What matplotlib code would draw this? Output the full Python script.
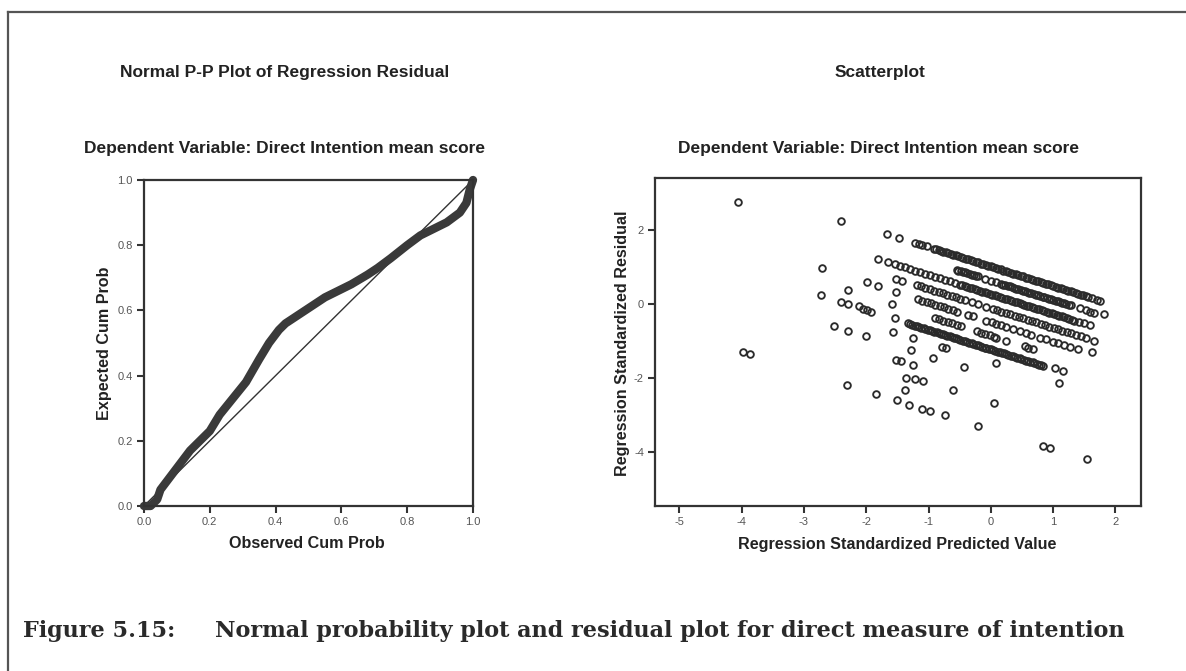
import matplotlib.pyplot as plt
from matplotlib.lines import Line2D

# ---- P-P plot data (observed cum prob, expected cum prob) ----
obs_cum = [0.00, 0.02, 0.04, 0.05, 0.08, 0.11, 0.14, 0.17, 0.20, 0.23, 0.27,
           0.31, 0.35, 0.38, 0.41, 0.43, 0.46, 0.49, 0.52, 0.55, 0.59, 0.63,
           0.68, 0.71, 0.75, 0.80, 0.84, 0.88, 0.92, 0.96, 0.98, 0.99, 1.00]
exp_cum = [0.00, 0.00, 0.02, 0.05, 0.09, 0.13, 0.17, 0.20, 0.23, 0.28, 0.33,
           0.38, 0.45, 0.50, 0.54, 0.56, 0.58, 0.60, 0.62, 0.64, 0.66, 0.68,
           0.71, 0.73, 0.76, 0.80, 0.83, 0.85, 0.87, 0.90, 0.93, 0.97, 1.00]

# ---- residual scatter, read band by band ----
band_a_x = [-2.40, -1.67, -1.47, -1.22, -1.16, -1.10, -1.02,
            -0.92, -0.84, -0.76, -0.68, -0.60, -0.52, -0.44, -0.36, -0.28, -0.20,
            -0.12, -0.04, 0.04, 0.12, 0.20, 0.28, 0.36, 0.44, 0.52, 0.60, 0.68,
            0.76, 0.84, 0.92, 1.00, 1.08, 1.16, 1.24, 1.32, 1.40, 1.48, 1.56,
            1.63, 1.70, 1.75,
            -0.88, -0.80, -0.72, -0.64, -0.56, -0.48, -0.40, -0.32, -0.24, -0.16,
            -0.08, 0.00, 0.08, 0.16, 0.24, 0.32, 0.40, 0.48, 0.56, 0.64, 0.72,
            0.80, 0.88, 0.96, 1.04, 1.12, 1.20, 1.28, 1.36, 1.44, 1.52]
band_a_y = [2.26, 1.90, 1.79, 1.66, 1.63, 1.60, 1.56,
            1.50, 1.46, 1.42, 1.38, 1.34, 1.29, 1.25, 1.21, 1.17, 1.13,
            1.08, 1.04, 1.00, 0.96, 0.91, 0.87, 0.83, 0.79, 0.75, 0.70, 0.66,
            0.62, 0.58, 0.54, 0.49, 0.45, 0.41, 0.37, 0.32, 0.28, 0.24, 0.20,
            0.16, 0.12, 0.10,
            1.48, 1.44, 1.40, 1.36, 1.32, 1.27, 1.23, 1.19, 1.15, 1.10,
            1.06, 1.02, 0.98, 0.94, 0.89, 0.85, 0.81, 0.77, 0.72, 0.68, 0.64,
            0.60, 0.56, 0.51, 0.47, 0.43, 0.39, 0.35, 0.30, 0.26, 0.22]

band_b_x = [-4.06, -0.55, -0.48, -0.41, -0.34, -0.27, -0.20, -0.10, 0.00, 0.08,
            0.16, 0.23, 0.30, 0.37, 0.44, 0.51, 0.58, 0.65, 0.72, 0.79, 0.86,
            0.93, 1.00, 1.07, 1.14, 1.21, 1.28, 1.43, 1.52, 1.59, 1.66, 1.81,
            -0.52, -0.45, -0.38, -0.31, -0.24, 0.20, 0.27, 0.34, 0.41, 0.48,
            0.55, 0.62, 0.69, 0.76, 0.83, 0.90, 0.97, 1.04, 1.11, 1.18, 1.25]
band_b_y = [2.77, 0.93, 0.89, 0.86, 0.82, 0.78, 0.75, 0.69, 0.64, 0.60,
            0.56, 0.52, 0.48, 0.45, 0.41, 0.37, 0.33, 0.30, 0.26, 0.22, 0.19,
            0.15, 0.11, 0.08, 0.04, 0.00, -0.03, -0.11, -0.16, -0.20, -0.23, -0.27,
            0.91, 0.88, 0.84, 0.80, 0.77, 0.53, 0.50, 0.46, 0.42, 0.39,
            0.35, 0.31, 0.28, 0.24, 0.20, 0.17, 0.13, 0.09, 0.06, 0.02, -0.02]

band_c_x = [-1.81, -1.65, -1.54, -1.46, -1.38, -1.30, -1.22, -1.14, -1.06, -0.98,
            -0.90, -0.82, -0.74, -0.66, -0.58, -0.50, -0.42, -0.34, -0.26, -0.18,
            -0.10, -0.02, 0.06, 0.14, 0.22, 0.30, 0.38, 0.46, 0.54, 0.62, 0.70,
            0.78, 0.86, 0.94, 1.02, 1.10, 1.18, 1.26, 1.34, 1.42, 1.50, 1.59,
            -0.46, -0.38, -0.30, -0.22, -0.14, -0.06, 0.02, 0.10, 0.18, 0.26,
            0.34, 0.42, 0.50, 0.58, 0.66, 0.74, 0.82, 0.90, 0.98, 1.06, 1.14,
            1.22, 1.30]
band_c_y = [1.22, 1.13, 1.08, 1.04, 1.00, 0.96, 0.91, 0.87, 0.83, 0.79,
            0.74, 0.70, 0.66, 0.62, 0.58, 0.53, 0.49, 0.45, 0.41, 0.36,
            0.32, 0.28, 0.24, 0.20, 0.15, 0.11, 0.07, 0.03, -0.01, -0.06, -0.10,
            -0.14, -0.18, -0.23, -0.27, -0.31, -0.35, -0.39, -0.44, -0.48, -0.52, -0.57,
            0.51, 0.47, 0.43, 0.39, 0.34, 0.30, 0.26, 0.22, 0.18, 0.13,
            0.09, 0.05, 0.01, -0.04, -0.08, -0.12, -0.16, -0.20, -0.25, -0.29, -0.33,
            -0.37, -0.42]

band_d_x = [-1.52, -1.43, -1.19, -1.12, -1.05, -0.98, -0.91, -0.84, -0.77, -0.70,
            -0.63, -0.56, -0.49, -0.42, -0.30, -0.20, -0.07, 0.03, 0.10, 0.17,
            0.24, 0.31, 0.38, 0.45, 0.52, 0.59, 0.66, 0.73, 0.80, 0.87, 0.94,
            1.01, 1.08, 1.15, 1.22, 1.29, 1.36, 1.44, 1.52, 1.66]
band_d_y = [0.69, 0.64, 0.52, 0.48, 0.44, 0.41, 0.37, 0.33, 0.30, 0.26,
            0.22, 0.19, 0.15, 0.11, 0.05, 0.00, -0.07, -0.13, -0.16, -0.20,
            -0.24, -0.27, -0.31, -0.35, -0.38, -0.42, -0.46, -0.49, -0.53, -0.57, -0.61,
            -0.64, -0.68, -0.72, -0.75, -0.79, -0.83, -0.87, -0.91, -0.98]

band_e_x = [-2.71, -1.99, -1.81, -1.52, -1.17, -1.10, -1.03, -0.96, -0.89, -0.82,
            -0.75, -0.68, -0.61, -0.54, -0.36, -0.28, -0.07, 0.02, 0.09, 0.17,
            0.25, 0.36, 0.47, 0.56, 0.65, 0.79, 0.88, 1.00, 1.08, 1.18, 1.27,
            1.40, 1.63]
band_e_y = [0.97, 0.59, 0.50, 0.33, 0.14, 0.10, 0.06, 0.03, -0.01, -0.05,
            -0.08, -0.12, -0.16, -0.20, -0.29, -0.33, -0.44, -0.49, -0.53, -0.57,
            -0.61, -0.67, -0.73, -0.78, -0.82, -0.90, -0.94, -1.01, -1.05, -1.10, -1.15,
            -1.22, -1.29]

band_f_x = [-2.30, -1.59, -0.90, -0.83, -0.76, -0.69, -0.62, -0.55, -0.48, -0.23,
            -0.16, -0.09, -0.02, 0.05, 0.09, 0.25, 0.55, 0.60, 0.68]
band_f_y = [0.39, 0.00, -0.38, -0.41, -0.45, -0.49, -0.52, -0.56, -0.60, -0.73,
            -0.77, -0.80, -0.84, -0.88, -0.90, -0.98, -1.12, -1.17, -1.21]

band_g_x = [-2.72, -2.41, -2.30, -2.12, -2.05, -1.99, -1.92, -1.54,
            -1.33, -1.26, -1.19, -1.12, -1.05, -0.98, -0.91, -0.84, -0.77, -0.70,
            -0.63, -0.56, -0.49, -0.42, -0.35, -0.28, -0.21, -0.14, -0.07, 0.00,
            0.07, 0.14, 0.21, 0.28, 0.35, 0.42, 0.49, 0.56, 0.63, 0.70, 0.77,
            0.84, 1.03, 1.16,
            -1.29, -1.22, -1.15, -1.08, -1.01, -0.94, -0.87, -0.80, -0.73, -0.66,
            -0.59, -0.52, -0.45, -0.38, -0.31, -0.24, -0.17, -0.10, -0.03, 0.04,
            0.11, 0.18, 0.25, 0.32, 0.39, 0.46, 0.53, 0.60, 0.67, 0.74, 0.81]
band_g_y = [0.24, 0.07, 0.01, -0.06, -0.12, -0.15, -0.20, -0.38,
            -0.52, -0.56, -0.59, -0.63, -0.67, -0.70, -0.74, -0.78, -0.81, -0.85,
            -0.89, -0.92, -0.96, -1.00, -1.04, -1.07, -1.11, -1.15, -1.18, -1.22,
            -1.26, -1.29, -1.33, -1.37, -1.40, -1.44, -1.48, -1.52, -1.55, -1.59, -1.63,
            -1.66, -1.71, -1.80,
            -0.54, -0.58, -0.61, -0.65, -0.69, -0.72, -0.76, -0.80, -0.84, -0.87,
            -0.91, -0.95, -0.98, -1.02, -1.06, -1.09, -1.13, -1.17, -1.20, -1.24,
            -1.28, -1.31, -1.35, -1.39, -1.43, -1.46, -1.50, -1.54, -1.57, -1.61, -1.65]

low_x = [-1.57, -1.25, -0.78, -0.72, 0.09, 1.09,            # band H
         -2.51, -2.30, -2.00, -1.28, -0.93, -0.43,          # band I
         -1.52, -1.44, -1.25,                               # band J
         -1.36, -1.22, -1.09, -0.61, 0.05,                  # band K
         -1.37,                                             # band L
         -3.98, -3.87, -2.31, -1.84, -1.51, -1.32, -1.11,   # band M
         -0.97, -0.74, -0.20, 0.84, 0.95, 1.55]
low_y = [-0.74, -0.91, -1.16, -1.18, -1.60, -2.12,
         -0.60, -0.72, -0.86, -1.24, -1.44, -1.70,
         -1.51, -1.53, -1.65,
         -1.98, -2.03, -2.08, -2.33, -2.67,
         -2.31,
         -1.30, -1.35, -2.17, -2.42, -2.60, -2.71, -2.82,
         -2.89, -3.00, -3.28, -3.84, -3.89, -4.18]

pred_x = band_a_x + band_b_x + band_c_x + band_d_x + band_e_x + band_f_x + band_g_x + low_x
resid_y = band_a_y + band_b_y + band_c_y + band_d_y + band_e_y + band_f_y + band_g_y + low_y

W, H = 1186, 671


def fx(px):
    return px / W


def fy(py):
    return 1 - py / H


dark = '#333333'
sans = 'Liberation Sans'

fig = plt.figure(figsize=(W / 100, H / 100), dpi=100)

# frame round the figure
fig.add_artist(Line2D([fx(8), fx(8)], [fy(12), 0], color='#555555', lw=1.6))
fig.add_artist(Line2D([fx(8), 1], [fy(12), fy(12)], color='#555555', lw=1.6))


def style(ax):
    for s in ax.spines.values():
        s.set_color(dark)
        s.set_linewidth(1.6)
    ax.tick_params(direction='out', length=5, width=1.5, color=dark,
                   labelsize=8, labelcolor='#555555', pad=3)


# ---- left: normal P-P plot ----
ax1 = fig.add_axes([fx(144), fy(506), fx(473) - fx(144), fy(180) - fy(506)])
ax1.plot([0, 1], [0, 1], color=dark, lw=1.0)
ax1.plot(obs_cum, exp_cum, color='#3a3a3a', lw=6,
         solid_capstyle='round', solid_joinstyle='round', clip_on=False)
ax1.set_xlim(0, 1)
ax1.set_ylim(0, 1)
pp_ticks = [0.0, 0.2, 0.4, 0.6, 0.8, 1.0]
ax1.set_xticks(pp_ticks)
ax1.set_yticks(pp_ticks)
ax1.set_xticklabels(['%.1f' % t for t in pp_ticks], family=sans)
ax1.set_yticklabels(['%.1f' % t for t in pp_ticks], family=sans)
style(ax1)

# ---- right: residual scatterplot ----
ax2 = fig.add_axes([fx(655), fy(506), fx(1141) - fx(655), fy(178) - fy(506)])
ax2.plot(pred_x, resid_y, 'o', mfc='none', mec='#2b2b2b', ms=4.8, mew=1.35,
         linestyle='none')
ax2.set_xlim(-5.39, 2.41)
ax2.set_ylim(-5.45, 3.41)
sc_xticks = [-5, -4, -3, -2, -1, 0, 1, 2]
sc_yticks = [-4, -2, 0, 2]
ax2.set_xticks(sc_xticks)
ax2.set_yticks(sc_yticks)
ax2.set_xticklabels([str(t) for t in sc_xticks], family=sans)
ax2.set_yticklabels([str(t) for t in sc_yticks], family=sans)
style(ax2)

# ---- titles and labels ----
tkw = dict(family=sans, weight='bold', color='#222222', ha='center', va='center')
fig.text(fx(285), fy(72), 'Normal P-P Plot of Regression Residual', fontsize=12.5, **tkw)
fig.text(fx(285), fy(148), 'Dependent Variable: Direct Intention mean score', fontsize=12.5, **tkw)
fig.text(fx(880), fy(72), 'Scatterplot', fontsize=12.5, **tkw)
fig.text(fx(878), fy(148), 'Dependent Variable: Direct Intention mean score', fontsize=12.5, **tkw)

fig.text(fx(307), fy(544), 'Observed Cum Prob', fontsize=11.6, **tkw)
fig.text(fx(897), fy(544), 'Regression Standardized Predicted Value', fontsize=11.6, **tkw)
fig.text(fx(105), fy(343), 'Expected Cum Prob', fontsize=11.6, rotation=90, **tkw)
fig.text(fx(622), fy(343), 'Regression Standardized Residual', fontsize=11.6, rotation=90, **tkw)

# ---- caption ----
ckw = dict(family='DejaVu Serif', weight='bold', color='#2a2a2a', fontsize=16.1,
           ha='left', va='center')
fig.text(fx(23), fy(631), 'Figure 5.15:', **ckw)
fig.text(fx(215), fy(631),
         'Normal probability plot and residual plot for direct measure of intention', **ckw)

fig.savefig('out.png', dpi=100)
